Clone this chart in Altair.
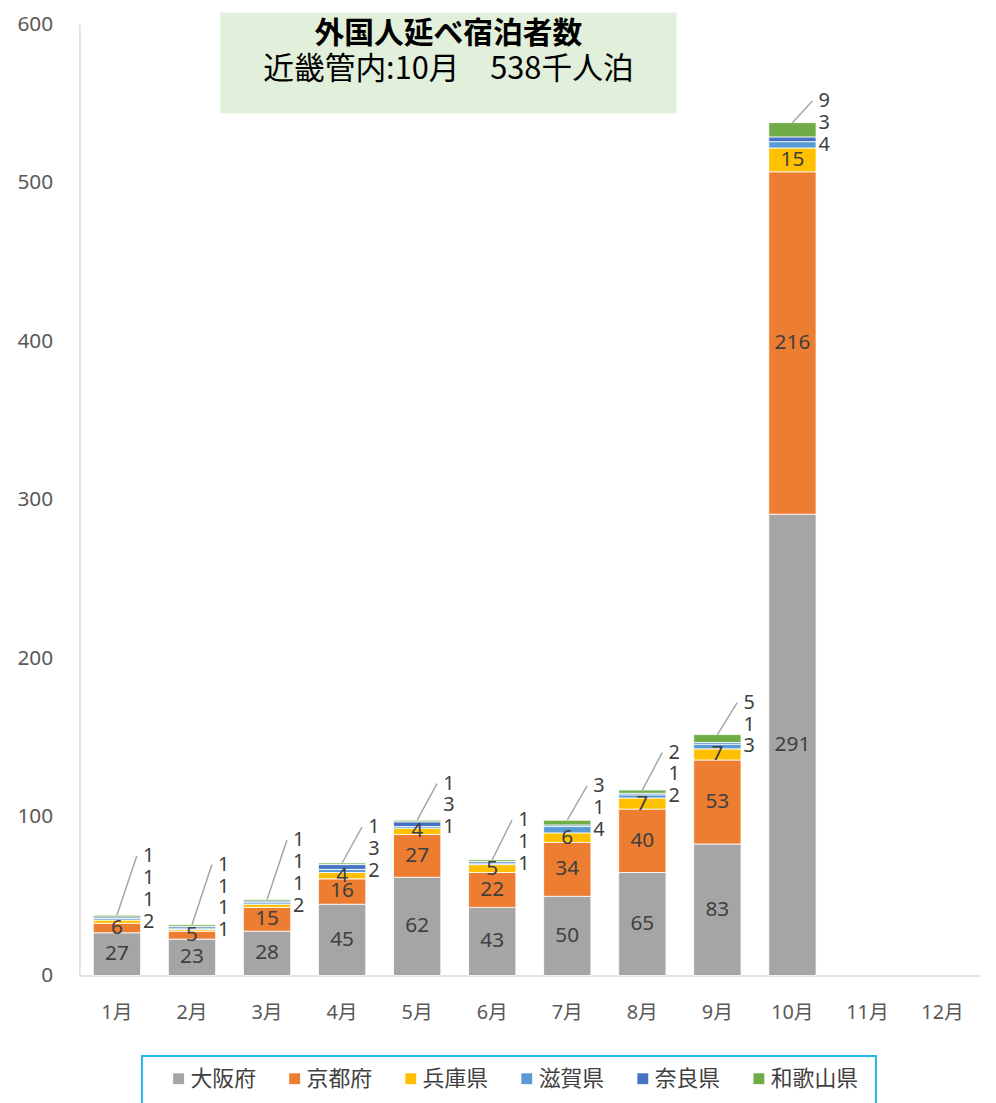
import altair as alt
import pandas as pd

# ---- data ----
months = ["1月", "2月", "3月", "4月", "5月", "6月", "7月", "8月", "9月", "10月", "11月", "12月"]
prefs = ["大阪府", "京都府", "兵庫県", "滋賀県", "奈良県", "和歌山県"]
colors = ["#A5A5A5", "#ED7D31", "#FFC000", "#5B9BD5", "#4472C4", "#70AD47"]
osaka = [27, 23, 28, 45, 62, 43, 50, 65, 83, 291]
kyoto = [6, 5, 15, 16, 27, 22, 34, 40, 53, 216]
hyogo = [2, 1, 2, 4, 4, 5, 6, 7, 7, 15]
shiga = [1, 1, 1, 2, 1, 1, 4, 2, 3, 4]
nara = [1, 1, 1, 3, 3, 1, 1, 1, 1, 3]
wakayama = [1, 1, 1, 1, 1, 1, 3, 2, 5, 9]
y_ticks = [0, 100, 200, 300, 400, 500, 600]
title_line1 = "外国人延べ宿泊者数"
title_line2 = "近畿管内:10月　538千人泊"

# ---- build tables ----
INSIDE_MIN = 3      # segments smaller than this get their label beside the bar
N_ALWAYS_INSIDE = 3  # the first three prefectures are labelled inside when large enough
LABEL_STEP = 13.8
series = [osaka, kyoto, hyogo, shiga, nara, wakayama]
seg_rows, in_rows, out_rows, lead_rows = [], [], [], []
for mi, m in enumerate(months[:len(osaka)]):
    base = 0
    next_out = None
    last_out = None
    for pi, p in enumerate(prefs):
        v = series[pi][mi]
        seg_rows.append(dict(month=m, pref=p, y0=base, y1=base + v, value=v))
        mid = base + v / 2
        if pi < N_ALWAYS_INSIDE and v >= INSIDE_MIN:
            in_rows.append(dict(month=m, value=v, ypos=mid))
        else:
            ypos = mid if next_out is None else max(mid, next_out)
            out_rows.append(dict(month=m, value=v, ypos=ypos))
            next_out = ypos + LABEL_STEP
            last_out = ypos
        base += v
    if last_out is not None:
        lead_rows.append(dict(month=m, top=base, end=last_out))

segs = pd.DataFrame(seg_rows)
inside = pd.DataFrame(in_rows)
outside = pd.DataFrame(out_rows)
leads = pd.DataFrame(lead_rows)

LABEL_FONT = "Noto Sans CJK JP"
NUM_FONT = "Noto Sans"
MIX_FONT = "Noto Sans, Noto Sans CJK JP"

x_scale = alt.Scale(domain=months, paddingInner=0.37, paddingOuter=0.185)
x_axis = alt.Axis(title=None, labelAngle=0, ticks=False, domainColor="#D9D9D9",
                  domainWidth=1.5, labelFont=MIX_FONT, labelFontSize=20,
                  labelColor="#595959", labelPadding=27)
y_scale = alt.Scale(domain=[0, 600], nice=False)
y_axis = alt.Axis(title=None, values=y_ticks, grid=False, ticks=False,
                  domainColor="#D9D9D9", domainWidth=1.5, labelFont=NUM_FONT,
                  labelFontSize=21, labelColor="#595959", labelPadding=27)


def X(field="month"):
    return alt.X(f"{field}:N", scale=x_scale, axis=x_axis, bandPosition=0.5)


def Y(field):
    return alt.Y(f"{field}:Q", scale=y_scale, axis=y_axis)


bars = alt.Chart(segs).mark_bar(stroke="white", strokeWidth=0.8).encode(
    x=alt.X("month:N", scale=x_scale, axis=x_axis),
    y=Y("y0"),
    y2="y1",
    color=alt.Color("pref:N", scale=alt.Scale(domain=prefs, range=colors),
                    legend=alt.Legend(title=None, orient="none", legendX=89, legendY=1052,
                                      direction="horizontal", columns=6, columnPadding=27,
                                      symbolType="square", symbolSize=121,
                                      symbolStrokeWidth=0, labelFont=LABEL_FONT,
                                      labelFontSize=22, labelColor="#404040",
                                      labelOffset=1, padding=0)),
)

in_text = alt.Chart(inside).mark_text(font=NUM_FONT, fontSize=21, color="#404040",
                                      baseline="middle", align="center").encode(
    x=X(), y=Y("ypos"), text="value:Q")

out_text = alt.Chart(outside).mark_text(font=NUM_FONT, fontSize=20, color="#404040",
                                        baseline="middle", align="center", dx=32).encode(
    x=X(), y=Y("ypos"), text="value:Q")

leaders = alt.Chart(leads).mark_rule(color="#A6A6A6", strokeWidth=1.5, x2Offset=20).encode(
    x=X(), x2=alt.X2("month"), y=Y("top"), y2="end")

one = pd.DataFrame({"a": [0]})
title_box = alt.Chart(one).mark_rect(color="#E2EFDA").encode(
    x=alt.value(142), x2=alt.value(602), y=alt.value(-12), y2=alt.value(90))
t1 = alt.Chart(pd.DataFrame({"t": [title_line1]})).mark_text(
    font=LABEL_FONT, fontSize=30, fontWeight="bold", color="#000000",
    align="center", baseline="middle").encode(x=alt.value(372), y=alt.value(10), text="t:N")
t2 = alt.Chart(pd.DataFrame({"t": [title_line2]})).mark_text(
    font=LABEL_FONT, fontSize=31, color="#000000",
    align="center", baseline="middle").encode(x=alt.value(372), y=alt.value(46), text="t:N")
legend_box = alt.Chart(one).mark_rect(filled=False, stroke="#22B5EE", strokeWidth=2).encode(
    x=alt.value(63), x2=alt.value(803), y=alt.value(1040), y2=alt.value(1100))

chart = alt.layer(title_box, t1, t2, bars, leaders, in_text, out_text, legend_box).properties(
    width=908, height=959,
    autosize=alt.AutoSizeParams(type="none"),
    padding={"left": 72, "top": 12, "right": 8, "bottom": 124},
).configure_view(stroke=None)

chart.save("out.html", embed_options={"renderer": "svg", "actions": False})
